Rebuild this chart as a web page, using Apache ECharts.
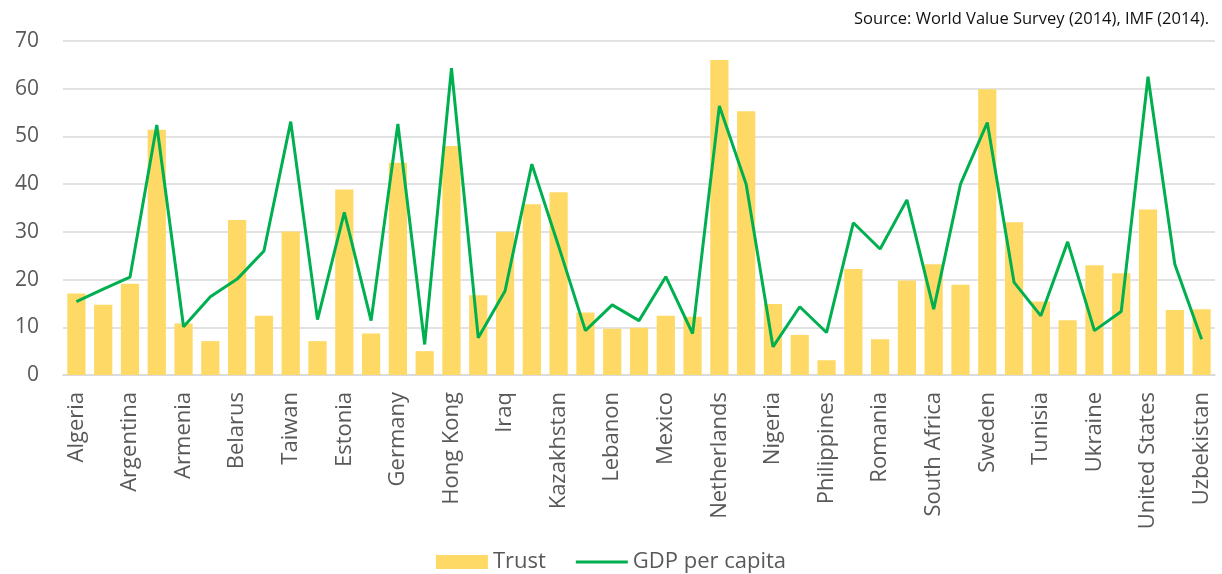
<!DOCTYPE html>
<html>
<head>
<meta charset="utf-8">
<script src="https://cdn.jsdelivr.net/npm/echarts@6/dist/echarts.min.js"></script>
<style>
html,body{margin:0;padding:0;background:#fff;}
#chart{width:1222px;height:574px;}
</style>
</head>
<body>
<div id="chart"></div>
<script>
var countries = ["Algeria","Azerbaijan","Argentina","Australia","Armenia","Brazil","Belarus","Chile","Taiwan","Ecuador","Estonia","Georgia","Germany","Ghana","Hong Kong","India","Iraq","Japan","Kazakhstan","Jordan","Lebanon","Libya","Mexico","Morocco","Netherlands","New Zealand","Nigeria","Peru","Philippines","Poland","Romania","Slovenia","South Africa","Spain","Sweden","Thailand","Tunisia","Turkey","Ukraine","Egypt","United States","Uruguay","Uzbekistan"];
var trust = [17.1,14.7,19.1,51.4,10.8,7.1,32.5,12.4,30.1,7.1,38.9,8.7,44.5,5.0,48.0,16.7,30.0,35.8,38.3,13.1,9.7,9.9,12.4,12.2,66.0,55.3,14.9,8.4,3.1,22.2,7.5,19.8,23.2,18.9,59.9,32.0,15.4,11.5,23.0,21.3,34.7,13.6,13.8];
var gdpPerCapita = [15.4,18.0,20.5,52.4,10.1,16.4,20.1,26.0,53.1,11.6,34.1,11.4,52.6,6.4,64.3,7.8,17.6,44.2,27.0,9.3,14.7,11.4,20.6,8.7,56.4,40.0,5.9,14.3,8.9,31.9,26.4,36.7,13.8,40.0,52.9,19.4,12.4,27.9,9.3,13.3,62.5,23.2,7.5];
var sourceText = "Source: World Value Survey (2014), IMF (2014).";

var chart = echarts.init(document.getElementById('chart'));
var font = "'Open Sans', sans-serif";
chart.setOption({
  animation: false,
  title: {
    text: sourceText,
    right: 8,
    top: 6,
    textStyle: {fontFamily: font, fontSize: 16.5, fontWeight: 'normal', color: '#111'}
  },
  legend: {
    left: 'center',
    top: 546,
    itemWidth: 52,
    itemHeight: 14,
    itemGap: 30,
    textStyle: {fontFamily: font, fontSize: 22, color: '#595959'},
    data: [
      {name: 'Trust', icon: 'rect'},
      {name: 'GDP per capita', icon: 'path://M0,0 L52,0 L52,3 L0,3 Z'}
    ]
  },
  grid: {left: 63, right: 7, top: 41, bottom: 199, containLabel: false},
  xAxis: {
    type: 'category',
    data: countries,
    axisLine: {lineStyle: {color: '#D9D9D9', width: 1.5}},
    axisTick: {show: false},
    axisLabel: {
      interval: 1,
      rotate: 90,
      margin: 17,
      fontFamily: font,
      fontSize: 22,
      color: '#595959'
    }
  },
  yAxis: {
    type: 'value',
    min: 0,
    max: 70,
    interval: 10,
    axisLine: {show: false},
    axisTick: {show: false},
    axisLabel: {margin: 24, fontFamily: font, fontSize: 21, color: '#595959'},
    splitLine: {lineStyle: {color: '#D9D9D9', width: 1.5}}
  },
  series: [
    {
      name: 'Trust',
      type: 'bar',
      data: trust,
      barCategoryGap: '32%',
      itemStyle: {color: '#FFD966'}
    },
    {
      name: 'GDP per capita',
      type: 'line',
      data: gdpPerCapita,
      symbol: 'none',
      lineStyle: {color: '#00B050', width: 3},
      itemStyle: {color: '#00B050'}
    }
  ]
});
</script>
</body>
</html>
